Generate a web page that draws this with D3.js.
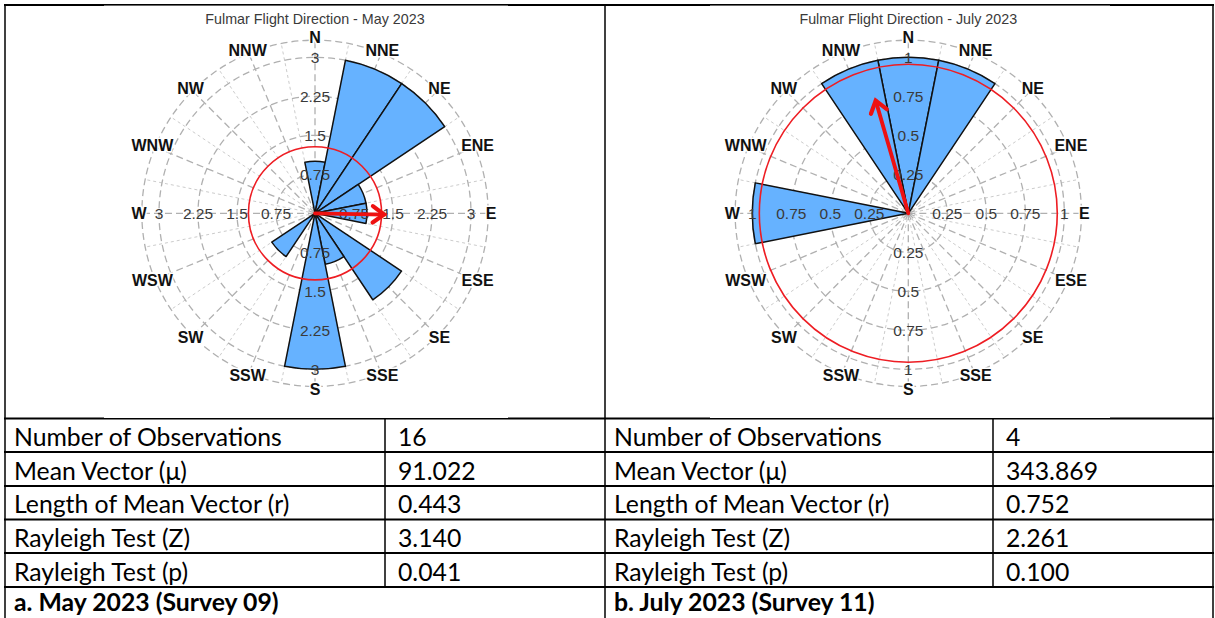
<!DOCTYPE html>
<html>
<head>
<meta charset="utf-8">
<script src="https://cdn.jsdelivr.net/npm/d3@7"></script>
<style>
  html, body { margin: 0; padding: 0; background: #fff; }
  svg { display: block; }
</style>
</head>
<body>
<svg id="fig" width="1215" height="618"></svg>
<script>
// ---- data -------------------------------------------------------------
const directions = ["N","NNE","NE","ENE","E","ESE","SE","SSE","S","SSW","SW","WSW","W","WNW","NW","NNW"];
const mayCounts  = [1, 3, 3, 1, 1, 0, 2, 1, 3, 0, 1, 0, 0, 0, 0, 0];
const julyCounts = [1, 1, 0, 0, 0, 0, 0, 0, 0, 0, 0, 0, 1, 0, 0, 1];
const mayTicks  = [0.75, 1.5, 2.25, 3];
const julyTicks = [0.25, 0.5, 0.75, 1];
const mayTitle  = "Fulmar Flight Direction - May 2023";
const julyTitle = "Fulmar Flight Direction - July 2023";
// radius of the red reference circle, in count units
const mayRing  = 1.28;
const julyRing = 0.955;

const statLabels = ["Number of Observations", "Mean Vector (\u03bc)", "Length of Mean Vector (r)", "Rayleigh Test (Z)", "Rayleigh Test (p)"];
const mayStats  = [16, 91.022, 0.443, 3.140, 0.041];
const julyStats = [4, 343.869, 0.752, 2.261, 0.100];
const captions  = ["a. May 2023 (Survey 09)", "b. July 2023 (Survey 11)"];

// ---- helpers ----------------------------------------------------------
const svg = d3.select("#fig");
const rad = d => d * Math.PI / 180;
const px = (a, r) => r * Math.sin(rad(a));
const py = (a, r) => -r * Math.cos(rad(a));
const fmtStat = (v, i) => i === 0 ? String(v) : v.toFixed(3);

// ---- table frame ------------------------------------------------------
const tableX = [5, 605, 1213];
const rowY = [418.5, 452, 486, 519.5, 553, 587];
const innerX = [385, 993];

const frame = svg.append("g").attr("stroke", "#000").attr("fill", "none");
frame.append("line").attr("x1", 4).attr("x2", 1214).attr("y1", 5).attr("y2", 5).attr("stroke-width", 2);
rowY.forEach(y => frame.append("line").attr("x1", 4).attr("x2", 1214).attr("y1", y).attr("y2", y).attr("stroke-width", 2));
tableX.forEach(x => frame.append("line").attr("x1", x).attr("x2", x).attr("y1", 4).attr("y2", 618).attr("stroke-width", 1.5));
innerX.forEach(x => frame.append("line").attr("x1", x).attr("x2", x).attr("y1", rowY[0]).attr("y2", rowY[rowY.length - 1]).attr("stroke-width", 1.5));

// white backing of each chart picture
[[104, 508], [710, 1110]].forEach(([x0, x1]) =>
  svg.append("rect").attr("x", x0).attr("y", 5.6).attr("width", x1 - x0).attr("height", 412.4).attr("fill", "#fff"));

// ---- rose diagram -----------------------------------------------------
function rose(cx, cy, counts, ticks, title, meanDir, meanLen, ring) {
  const g = svg.append("g").attr("transform", `translate(${cx},${cy})`);
  const maxV = d3.max(ticks);
  const r = d3.scaleLinear().domain([0, maxV]).range([0, 156]);
  const outerV = maxV * 1.11;
  const outerR = r(outerV);
  const step = 360 / directions.length;

  // dashed spokes, minor between the compass points
  g.append("g").selectAll("line")
    .data(directions.map((_, i) => i * step + step / 2))
    .join("line")
    .attr("x1", 0).attr("y1", 0)
    .attr("x2", a => px(a, outerR)).attr("y2", a => py(a, outerR))
    .attr("stroke", "#cccccc").attr("stroke-width", 1).attr("stroke-dasharray", "3,3");
  g.append("g").selectAll("line")
    .data(directions.map((_, i) => i * step))
    .join("line")
    .attr("x1", 0).attr("y1", 0)
    .attr("x2", a => px(a, outerR)).attr("y2", a => py(a, outerR))
    .attr("stroke", "#b0b0b0").attr("stroke-width", 1.3).attr("stroke-dasharray", "7,4");

  // dashed rings
  g.append("g").selectAll("circle")
    .data([...ticks, outerV])
    .join("circle")
    .attr("r", d => r(d))
    .attr("fill", "none").attr("stroke", "#b0b0b0").attr("stroke-width", 1.3).attr("stroke-dasharray", "7,4");

  // petals
  const arc = d3.arc().innerRadius(0);
  g.append("g").selectAll("path")
    .data(counts.map((v, i) => ({ v, i })).filter(d => d.v > 0))
    .join("path")
    .attr("d", d => arc({ outerRadius: r(d.v), startAngle: rad(d.i * step - step / 2), endAngle: rad(d.i * step + step / 2) }))
    .attr("fill", "#66b2ff").attr("stroke", "#111").attr("stroke-width", 1.5).attr("stroke-linejoin", "round");

  // radial tick labels along the four main axes
  const tickData = [];
  [0, 90, 180, 270].forEach(a => ticks.forEach(t => tickData.push({ a, t })));
  g.append("g").selectAll("text")
    .data(tickData)
    .join("text")
    .attr("x", d => px(d.a, r(d.t))).attr("y", d => py(d.a, r(d.t)))
    .attr("text-anchor", "middle").attr("dominant-baseline", "central")
    .attr("font-family", "Liberation Sans, Arial, sans-serif").attr("font-size", 15.5)
    .attr("fill", "#3a3a3a")
    .text(d => d.t);

  // reference circle
  g.append("circle").attr("r", r(ring))
    .attr("fill", "none").attr("stroke", "#ee1d23").attr("stroke-width", 1.6);

  // mean vector arrow
  const L = r(meanLen * maxV);
  const tx = px(meanDir, L), ty = py(meanDir, L);
  g.append("line").attr("x1", 0).attr("y1", 0).attr("x2", tx).attr("y2", ty)
    .attr("stroke", "#ee1111").attr("stroke-width", 3.8).attr("stroke-linecap", "round");
  const head = 14, spread = 36;
  const back1 = [tx + px(meanDir + 180 - spread, head), ty + py(meanDir + 180 - spread, head)];
  const back2 = [tx + px(meanDir + 180 + spread, head), ty + py(meanDir + 180 + spread, head)];
  g.append("path")
    .attr("d", d3.line()([back1, [tx, ty], back2]))
    .attr("fill", "none").attr("stroke", "#ee1111").attr("stroke-width", 4.2)
    .attr("stroke-linejoin", "miter").attr("stroke-linecap", "round");

  // compass point labels
  g.append("g").selectAll("text")
    .data(directions.map((d, i) => ({ d, a: i * step })))
    .join("text")
    .attr("x", d => px(d.a, 176)).attr("y", d => py(d.a, 176))
    .attr("text-anchor", "middle").attr("dominant-baseline", "central")
    .attr("font-family", "Liberation Sans, Arial, sans-serif").attr("font-weight", "bold").attr("font-size", 16)
    .attr("fill", "#111").attr("stroke", "#fff").attr("stroke-width", 3).attr("paint-order", "stroke")
    .text(d => d.d);

  // title
  svg.append("text")
    .attr("x", cx).attr("y", 18.5)
    .attr("text-anchor", "middle").attr("dominant-baseline", "central")
    .attr("font-family", "Liberation Sans, Arial, sans-serif").attr("font-size", 14.3)
    .attr("fill", "#3a3a3a")
    .text(title);
}

rose(315, 213.3, mayCounts, mayTicks, mayTitle, mayStats[1], mayStats[2], mayRing);
rose(908.3, 213.3, julyCounts, julyTicks, julyTitle, julyStats[1], julyStats[2], julyRing);

// ---- statistics table text -------------------------------------------
const tableFont = "Lato, Carlito, Calibri, sans-serif";
// size the table font so the longest label spans its cell the way it does in the document
const probe = svg.append("text").attr("font-family", tableFont).attr("font-size", 100).text(statLabels[0]);
const tableSize = 100 * 268 / probe.node().getComputedTextLength();
probe.remove();

const panels = [
  { x0: tableX[0], xv: innerX[0], stats: mayStats, caption: captions[0] },
  { x0: tableX[1], xv: innerX[1], stats: julyStats, caption: captions[1] }
];
panels.forEach(p => {
  const t = svg.append("g").attr("font-family", tableFont).attr("font-size", tableSize).attr("fill", "#000");
  statLabels.forEach((lab, i) => {
    const yc = (rowY[i] + rowY[i + 1]) / 2 + 1;
    t.append("text").attr("x", p.x0 + 9).attr("y", yc).attr("dominant-baseline", "central").text(lab);
    t.append("text").attr("x", p.xv + 13).attr("y", yc).attr("dominant-baseline", "central").text(fmtStat(p.stats[i], i));
  });
  t.append("text").attr("x", p.x0 + 9).attr("y", rowY[rowY.length - 1] + 14)
    .attr("dominant-baseline", "central").attr("font-weight", "bold").text(p.caption);
});
</script>
</body>
</html>
